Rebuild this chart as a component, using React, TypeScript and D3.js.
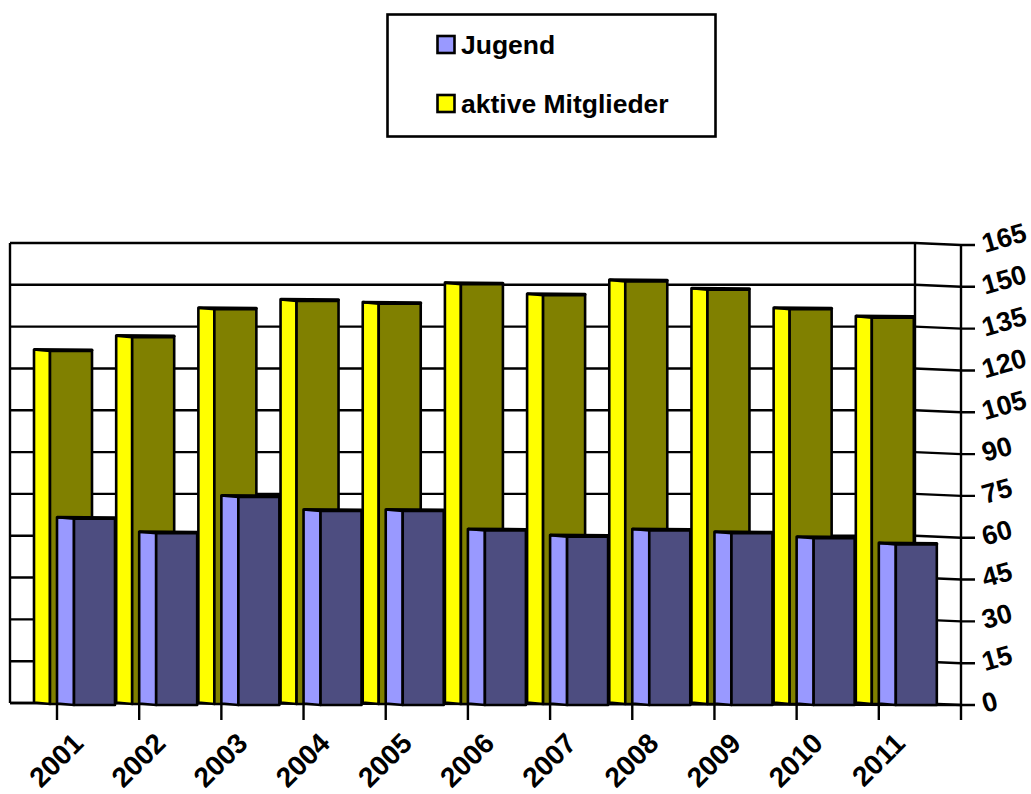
import React from "react";
import * as d3 from "d3";

const years = ["2001","2002","2003","2004","2005","2006","2007","2008","2009","2010","2011"];
const jugend = [66.8,61.6,74.6,69.6,69.6,62.6,60.4,62.6,61.6,59.8,57.6];
const aktive = [126.6,131.6,141.6,144.6,143.6,150.6,146.6,151.6,148.6,141.6,138.6];
const yTicks = [0,15,30,45,60,75,90,105,120,135,150,165];

const WALL_DX = -46, WALL_DY = -2;
const x = d3.scaleBand<string>().domain(years).range([57, 961]);
const y = d3.scaleLinear().domain([0,165]).range([705,245]);
const font = "'Liberation Sans', Arial, sans-serif";
const SW = 2.6;

function Bar({left,value,base,side,front,w1=17,w2=41}:{left:number,value:number,base:number,side:string,front:string,w1?:number,w2?:number}) {
  const top = y(value) + (base-705);
  const lean = 1.5;
  const sidePath = d3.line()([[left,top-lean],[left+w1,top],[left+w1,base],[left,base-lean]])+"Z";
  const topLine = d3.line()([[left,top-lean],[left+w1+w2,top-lean+0.5],[left+w1+w2,top]])!;
  return <g stroke="#000" strokeWidth={SW} strokeLinejoin="round">
    <path d={sidePath} fill={side}/>
    <rect x={left+w1} y={top} width={w2} height={base-top} fill={front}/>
    <path d={topLine} fill="none" strokeWidth={SW+0.4}/>
  </g>;
}

export default function App(){
  const backR = 961 + WALL_DX, backL = 10;
  const axisX = 961;
  return <svg width={1031} height={794} style={{position:"fixed",left:0,top:0,background:"#fff"}} fontFamily={font}>
    {/* legend */}
    <rect x={387.5} y={14.5} width={328} height={122} fill="#fff" stroke="#000" strokeWidth={SW}/>
    <rect x={437.5} y={36} width={17} height={17} fill="#9999FF" stroke="#000" strokeWidth={SW}/>
    <rect x={437.5} y={95} width={17} height={17} fill="#FFFF00" stroke="#000" strokeWidth={SW}/>
    <text x={461} y={54} fontSize={26.5} fontWeight="bold">Jugend</text>
    <text x={461} y={113} fontSize={26.5} fontWeight="bold">aktive Mitglieder</text>

    {/* walls and grid */}
    <g stroke="#000" strokeWidth={2.4} fill="none">
      {yTicks.map(t=> <path key={t} d={d3.line()([[backL,y(t)+WALL_DY],[backR,y(t)+WALL_DY],[axisX,y(t)],[axisX+14,y(t)]])!}/>)}
      <line x1={backL} x2={backL} y1={y(165)+WALL_DY} y2={y(0)+WALL_DY}/>
      <line x1={backR} x2={backR} y1={y(165)+WALL_DY} y2={y(0)+WALL_DY}/>
      <line x1={axisX} x2={axisX} y1={y(165)} y2={y(0)+15}/>
      {years.map(c=> <line key={c} x1={x(c)!} x2={x(c)!} y1={y(0)} y2={y(0)+15}/>)}
      <line x1={backL} y1={y(0)+WALL_DY} x2={axisX} y2={y(0)}/>
    </g>

    {/* bars */}
    {years.map((c,i)=> <g key={c}>
      <Bar left={x(c)!-23} value={aktive[i]} base={704} side="#FFFF00" front="#808000" w1={16} w2={42}/>
    </g>)}
    {years.map((c,i)=> <g key={c}>
      <Bar left={x(c)!} value={jugend[i]} base={705} side="#9999FF" front="#4D4D80"/>
    </g>)}

    {/* tick labels */}
    {yTicks.map(t=> <text key={t} transform={`translate(985,${y(t)+8}) rotate(-16)`} fontSize={27} fontWeight="bold">{t}</text>)}
    {years.map(c=> <text key={c} transform={`translate(${x(c)!+28},${y(0)+40}) rotate(-45)`} textAnchor="end" fontSize={28} fontWeight="bold">{c}</text>)}
  </svg>;
}
